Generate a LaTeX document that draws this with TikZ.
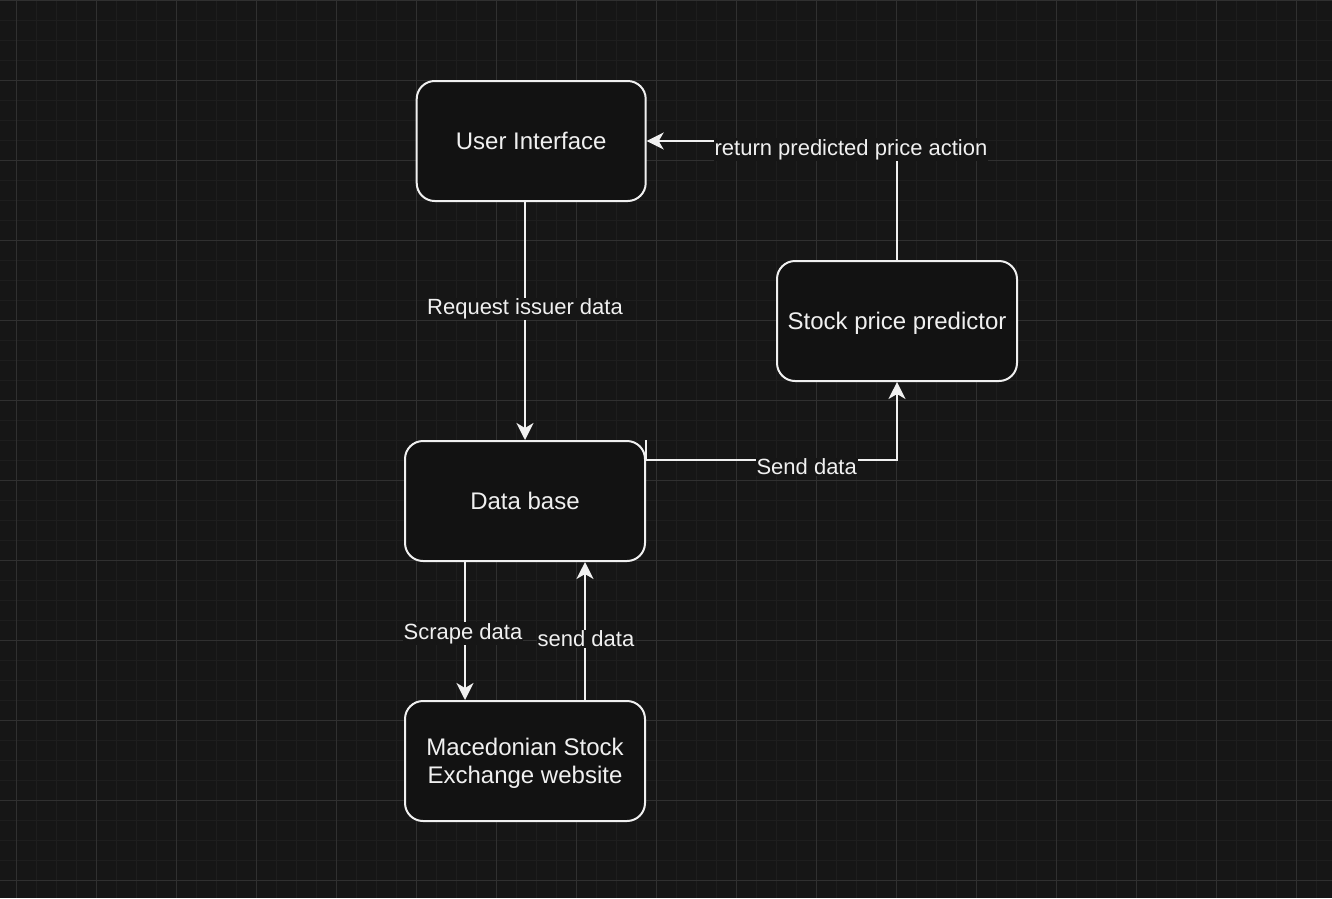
\documentclass[tikz,border=0pt]{standalone}
\usepackage{fontspec}
\setmainfont{Liberation Sans}
\usetikzlibrary{arrows.meta}
\definecolor{bgc}{HTML}{161616}
\definecolor{minorc}{HTML}{1E1E1E}
\definecolor{majorc}{HTML}{303030}
\definecolor{boxc}{HTML}{121212}
\definecolor{fgc}{HTML}{F0F0F0}
\tikzset{
  box/.style={draw=fgc, line width=2pt, fill=boxc, rounded corners=18pt,
    minimum height=120pt, inner sep=0pt, text=fgc, align=center,
    text depth=0pt, font=\fontsize{24}{28}\selectfont},
  conn/.style={draw=fgc, line width=2pt,
    -{Stealth[length=17pt, width=17pt, inset=5pt]}},
  lbl/.style={fill=bgc, text=fgc, inner sep=1pt, font=\fontsize{22}{26}\selectfont},
}
\begin{document}
\begin{tikzpicture}[x=1pt, y=-1pt]
\useasboundingbox (0,0) rectangle (1332,898);
\fill[bgc] (0,0) rectangle (1332,898);
% minor grid
\foreach \i in {0,...,66} {
  \draw[minorc, line width=1pt] ({16.7+20*\i},0) -- ({16.7+20*\i},898);
}
\foreach \j in {0,...,44} {
  \draw[minorc, line width=1pt] (0,{0.7+20*\j}) -- (1332,{0.7+20*\j});
}
% major grid
\foreach \i in {0,...,16} {
  \draw[majorc, line width=1.3pt] ({16.7+80*\i},0) -- ({16.7+80*\i},898);
}
\foreach \j in {0,...,11} {
  \draw[majorc, line width=1.3pt] (0,{0.7+80*\j}) -- (1332,{0.7+80*\j});
}
% nodes
\node[box, minimum width=229pt] (ui) at (531.2,141) {User Interface};
\node[box, minimum width=240pt] (pred) at (897,321) {Stock price predictor};
\node[box, minimum width=240pt] (db) at (525,501) {Data base};
\node[box, minimum width=240pt] (mse) at (525,761) {Macedonian Stock\\Exchange website};
% connectors
\draw[conn] (ui.south -| db.north) -- (db.north);
\node[lbl] (l1) at (525,309) {Request issuer data};
\draw[conn] (pred.north) |- (ui.east);
\node[lbl] (l2) at (851,149.5) {return predicted price action};
\draw[conn] (db.north east) -- ([yshift=-20pt]db.north east) -| (pred.south);
\node[lbl] (l3) at (806.7,467) {Send data};
\draw[conn] ([xshift=-60pt]db.south) -- ([xshift=-60pt]mse.north);
\node[lbl] (l4) at (463,633.5) {Scrape data};
\draw[conn] ([xshift=60pt]mse.north) -- ([xshift=60pt]db.south);
\node[lbl] (l5) at (586,639) {send data};
\end{tikzpicture}
\end{document}
